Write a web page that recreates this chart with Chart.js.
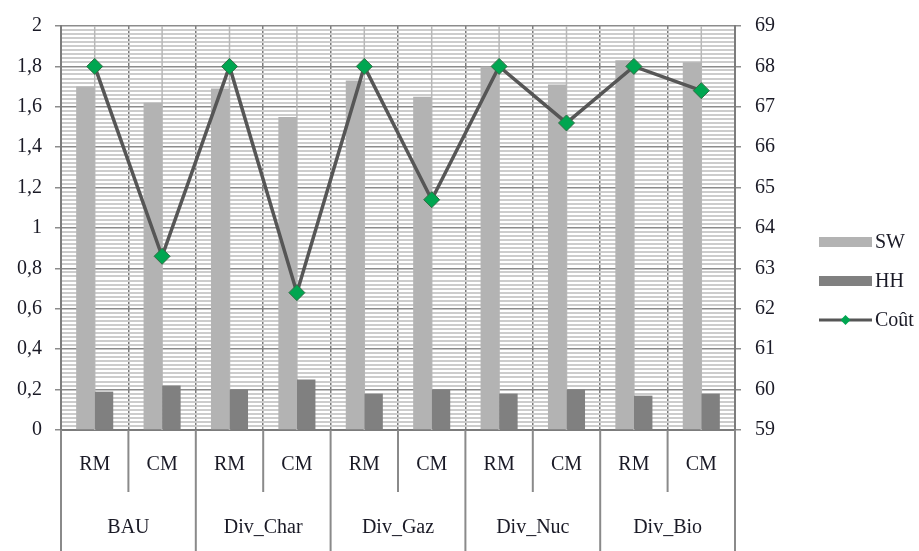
<!DOCTYPE html>
<html>
<head>
<meta charset="utf-8">
<script src="https://cdn.jsdelivr.net/npm/chart.js@4"></script>
<style>
  body { margin: 0; background: #fff; }
  canvas { display: block; }
</style>
</head>
<body>
<canvas id="chart" width="919" height="551"></canvas>
<script>
const groups = ["BAU", "Div_Char", "Div_Gaz", "Div_Nuc", "Div_Bio"];
const subLabels = ["RM", "CM"];
const swValues = [1.70, 1.62, 1.69, 1.55, 1.73, 1.65, 1.80, 1.71, 1.83, 1.82];
const hhValues = [0.19, 0.22, 0.20, 0.25, 0.18, 0.20, 0.18, 0.20, 0.17, 0.18];
const coutValues = [68.0, 63.3, 68.0, 62.4, 68.0, 64.7, 68.0, 66.6, 68.0, 67.4];
const seriesNames = ["SW", "HH", "Coût"];

const categories = [];
groups.forEach(g => subLabels.forEach(s => categories.push(g + " " + s)));

const FONT = "'Liberation Serif', 'Times New Roman', serif";
const TEXT = "#1a1a26";
const SW_COLOR = "#b3b3b3";
const HH_COLOR = "#808080";
const LINE_COLOR = "#565656";
const MARK_COLOR = "#00a651";

function isMajor(v) {
    return Math.abs(v * 5 - Math.round(v * 5)) < 1e-6;
}

// light vertical lines at column centres, drawn under the bars
const centerLines = {
    id: "centerLines",
    beforeDatasetsDraw(chart) {
        const { ctx, chartArea, scales } = chart;
        ctx.save();
        ctx.strokeStyle = "#b8b8b8";
        ctx.lineWidth = 1.5;
        categories.forEach((c, i) => {
            const x = scales.x.getPixelForValue(i);
            ctx.beginPath();
            ctx.moveTo(x, chartArea.top);
            ctx.lineTo(x, chartArea.bottom);
            ctx.stroke();
        });
        ctx.restore();
    }
};

// two-level category table under the plot + legend
const extras = {
    id: "extras",
    afterDraw(chart) {
        const { ctx, chartArea, scales } = chart;
        const x = scales.x;
        const bottom = chart.height;
        const px = i => x.getPixelForValue(i);
        ctx.save();
        ctx.strokeStyle = "#8a8a8a";
        ctx.lineWidth = 2;
        // group boundaries
        for (let g = 0; g <= groups.length; g++) {
            let bx;
            if (g === 0) bx = chartArea.left;
            else if (g === groups.length) bx = chartArea.right;
            else bx = (px(2 * g - 1) + px(2 * g)) / 2;
            ctx.beginPath();
            ctx.moveTo(bx, chartArea.bottom);
            ctx.lineTo(bx, bottom);
            ctx.stroke();
        }
        // RM / CM dividers
        groups.forEach((g, gi) => {
            const bx = (px(2 * gi) + px(2 * gi + 1)) / 2;
            ctx.beginPath();
            ctx.moveTo(bx, chartArea.bottom);
            ctx.lineTo(bx, chartArea.bottom + 62);
            ctx.stroke();
        });
        ctx.fillStyle = TEXT;
        ctx.font = "20px " + FONT;
        ctx.textAlign = "center";
        ctx.textBaseline = "middle";
        groups.forEach((g, gi) => {
            subLabels.forEach((s, si) => {
                ctx.fillText(s, px(2 * gi + si), chartArea.bottom + 35);
            });
            ctx.fillText(g, (px(2 * gi) + px(2 * gi + 1)) / 2, chartArea.bottom + 98);
        });

        // legend
        const lx = chartArea.right + 84;
        const tx = lx + 56;
        ctx.textAlign = "left";
        ctx.fillStyle = SW_COLOR;
        ctx.fillRect(lx, 237, 53, 10);
        ctx.fillStyle = HH_COLOR;
        ctx.fillRect(lx, 276, 53, 10);
        ctx.strokeStyle = LINE_COLOR;
        ctx.lineWidth = 3;
        ctx.beginPath();
        ctx.moveTo(lx, 320);
        ctx.lineTo(lx + 53, 320);
        ctx.stroke();
        ctx.fillStyle = MARK_COLOR;
        ctx.beginPath();
        ctx.moveTo(lx + 26.5 - 5, 320);
        ctx.lineTo(lx + 26.5, 315);
        ctx.lineTo(lx + 26.5 + 5, 320);
        ctx.lineTo(lx + 26.5, 325);
        ctx.closePath();
        ctx.fill();
        ctx.fillStyle = TEXT;
        ctx.fillText(seriesNames[0], tx, 243);
        ctx.fillText(seriesNames[1], tx, 282);
        ctx.fillText(seriesNames[2], tx, 321);
        ctx.restore();
    }
};

new Chart(document.getElementById("chart"), {
    data: {
        labels: categories,
        datasets: [
            {
                type: "line",
                label: seriesNames[2],
                data: coutValues,
                yAxisID: "y1",
                order: 0,
                borderColor: LINE_COLOR,
                borderWidth: 3.5,
                tension: 0,
                pointStyle: "rectRot",
                pointRadius: 8,
                pointBackgroundColor: MARK_COLOR,
                pointBorderColor: "#2f6e44",
                pointBorderWidth: 1
            },
            {
                type: "bar",
                label: seriesNames[0],
                data: swValues,
                yAxisID: "y",
                order: 1,
                backgroundColor: SW_COLOR,
                categoryPercentage: 0.55,
                barPercentage: 1.0
            },
            {
                type: "bar",
                label: seriesNames[1],
                data: hhValues,
                yAxisID: "y",
                order: 1,
                backgroundColor: HH_COLOR,
                categoryPercentage: 0.55,
                barPercentage: 1.0
            }
        ]
    },
    options: {
        responsive: false,
        animation: false,
        layout: { padding: { top: 22, left: 0, right: 0, bottom: 0 } },
        plugins: {
            legend: { display: false },
            tooltip: { enabled: false }
        },
        scales: {
            x: {
                offset: true,
                ticks: { display: false },
                grid: { color: "#7c7c7c", lineWidth: 1.5, drawTicks: false },
                border: { color: "#7c7c7c", width: 2 },
                afterFit: s => { s.height = 121; }
            },
            y: {
                position: "left",
                min: 0,
                max: 2,
                ticks: {
                    stepSize: 0.02,
                    autoSkip: false,
                    maxTicksLimit: 200,
                    padding: 13,
                    color: TEXT,
                    font: { family: FONT, size: 20 },
                    callback: v => isMajor(v) ? String(Math.round(v * 10) / 10).replace(".", ",") : ""
                },
                grid: {
                    color: c => isMajor(c.tick.value) ? "#8c8c8c" : "#cccccc",
                    lineWidth: c => isMajor(c.tick.value) ? 1.5 : 2,
                    tickColor: c => isMajor(c.tick.value) ? "#8c8c8c" : "rgba(0,0,0,0)",
                    tickLength: 6
                },
                border: { color: "#7c7c7c", width: 2 },
                afterFit: s => { s.width = 61; }
            },
            y1: {
                position: "right",
                min: 59,
                max: 69,
                ticks: {
                    stepSize: 1,
                    padding: 14,
                    color: TEXT,
                    font: { family: FONT, size: 20 }
                },
                grid: { drawOnChartArea: false, color: "#8c8c8c", lineWidth: 1.5, tickLength: 6 },
                border: { color: "#7c7c7c", width: 2 },
                afterFit: s => { s.width = 184; }
            }
        }
    },
    plugins: [centerLines, extras]
});
</script>
</body>
</html>
